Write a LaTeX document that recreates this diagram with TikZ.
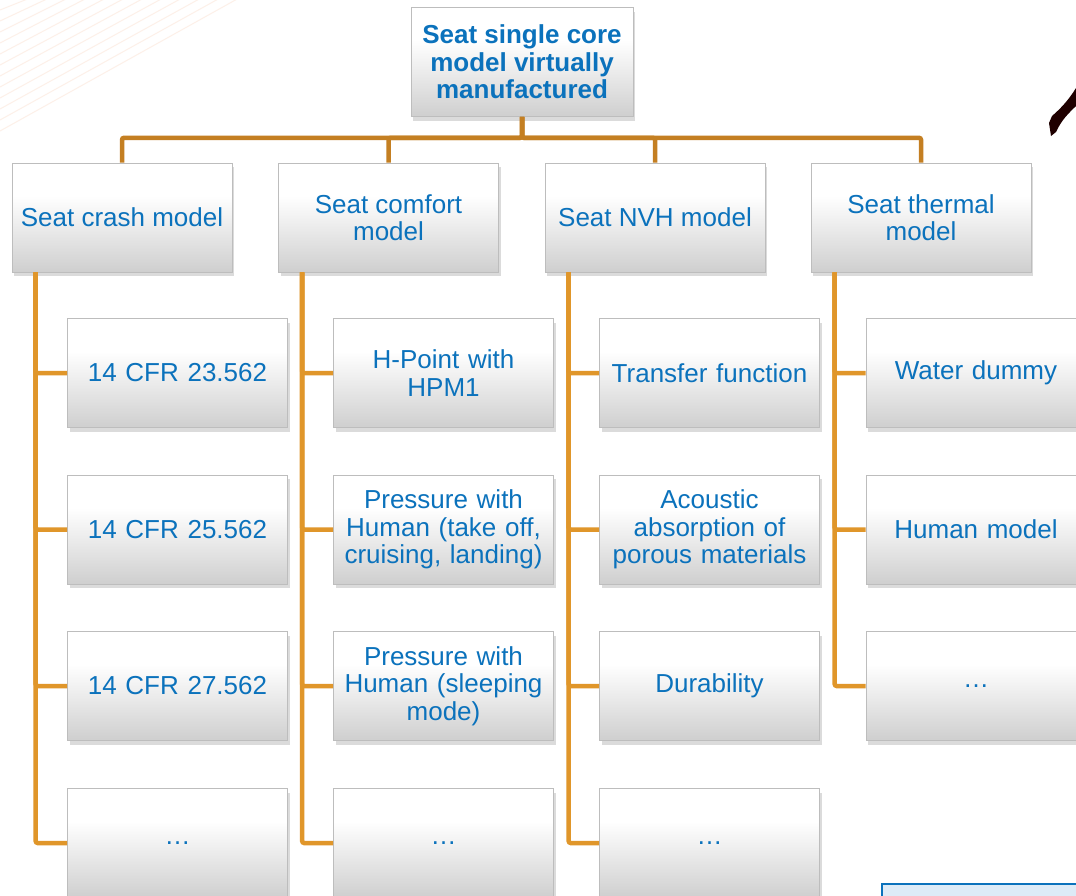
\documentclass[tikz,border=0pt]{standalone}
\usepackage{fontspec}
\setmainfont{Liberation Sans}
\usetikzlibrary{shadows,calc}
\definecolor{txtblue}{HTML}{0B72BC}
\definecolor{topline}{HTML}{C47F22}
\definecolor{subline}{HTML}{E0962A}
\definecolor{boxedge}{HTML}{BDBDBD}
\definecolor{lightblue}{HTML}{DDEBF7}
\definecolor{rayc}{HTML}{FCE6DA}
\pgfdeclareverticalshading{boxsh}{100bp}{color(0bp)=(black!20); color(25bp)=(black!19); color(45bp)=(black!8); color(60bp)=(white); color(100bp)=(white)}
\tikzset{
  gbox/.style={rectangle, shading=boxsh, draw=boxedge, line width=0.6pt,
    minimum width=220pt, minimum height=109pt, inner sep=3pt,
    text=txtblue, align=center, font=\fontsize{26}{27.5}\selectfont,
    drop shadow={shadow xshift=2pt, shadow yshift=-4pt, opacity=0.25, fill=black!55}},
  topbox/.style={gbox, minimum width=222pt, font=\bfseries\fontsize{26}{27.5}\selectfont},
  l2box/.style={gbox, text width=212pt},
  topconn/.style={draw=topline, line width=4.5pt, rounded corners=2pt},
  subconn/.style={draw=subline, line width=4.5pt, rounded corners=2pt},
}
\begin{document}
\begin{tikzpicture}[x=1pt,y=-1pt]
\useasboundingbox (0,0) rectangle (1076,895);
\clip (0,0) rectangle (1076,895);
\fill[white] (0,0) rectangle (1076,895);
% faint rays in the top-left corner
\foreach \i in {0,...,11}{
  \draw[rayc, line width=1pt, opacity=0.6] (0,{10+11*\i}) -- ({30+19*\i},{-2});
}
% dark shape at top right
\fill[black!70!red!40!black] (1049,123) -- (1051,136) -- (1056,132)
  .. controls (1062,119) and (1069,113) .. (1076,106) -- (1076,88)
  .. controls (1068,101) and (1060,109) .. (1052,116) -- cycle;
% blue box fragment bottom right
\draw[draw=txtblue, fill=lightblue, line width=1.5pt] (882,884) rectangle (1090,910);

% top node
\node[topbox] (t) at (522,62) {Seat single core\\model virtually\\manufactured};
% level 1
\node[gbox] (c1) at (122,217.5) {Seat crash model};
\node[gbox] (c2) at (388.5,217.5) {Seat comfort\\model};
\node[gbox] (c3) at (655,217.5) {Seat NVH model};
\node[gbox] (c4) at (921,217.5) {Seat thermal\\model};
% level 2, column 1
\node[l2box] (a1) at (177.5,373) {14 CFR 23.562};
\node[l2box] (a2) at (177.5,529.5) {14 CFR 25.562};
\node[l2box] (a3) at (177.5,686) {14 CFR 27.562};
\node[l2box] (a4) at (177.5,843) {\dots};
% column 2
\node[l2box] (b1) at (443.5,373) {H-Point with\\HPM1};
\node[l2box] (b2) at (443.5,529.5) {Pressure with\\Human (take off,\\cruising, landing)};
\node[l2box] (b3) at (443.5,686) {Pressure with\\Human (sleeping\\mode)};
\node[l2box] (b4) at (443.5,843) {\dots};
% column 3
\node[l2box] (d1) at (709.5,373) {Transfer function};
\node[l2box] (d2) at (709.5,529.5) {Acoustic\\absorption of\\porous materials};
\node[l2box] (d3) at (709.5,686) {Durability};
\node[l2box] (d4) at (709.5,843) {\dots};
% column 4
\node[l2box] (e1) at (976,373) {Water dummy};
\node[l2box] (e2) at (976,529.5) {Human model};
\node[l2box] (e3) at (976,686) {\dots};

% connectors top -> level 1
\foreach \c in {c1,c2,c3,c4}{
  \draw[topconn] (t.south) -- ($(t.south)+(0,21)$) -| (\c.north);
}
% connectors level 1 -> level 2
\foreach \p/\kids in {c1/{a1,a2,a3,a4}, c2/{b1,b2,b3,b4}, c3/{d1,d2,d3,d4}, c4/{e1,e2,e3}}{
  \foreach \k in \kids{
    \draw[subconn] ($(\p.south west)+(24,0)$) |- (\k.west);
  }
}
\end{tikzpicture}
\end{document}
